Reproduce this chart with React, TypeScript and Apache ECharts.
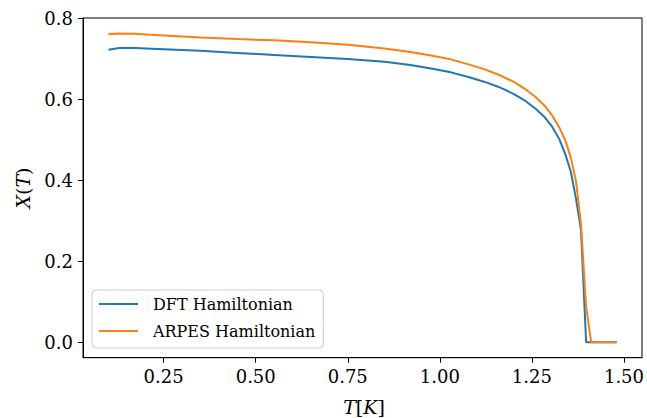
import React, { useEffect, useRef } from "react";
import * as echarts from "echarts";

const temperatures = [
  0.1, 0.13, 0.17, 0.25, 0.35, 0.45, 0.55, 0.65, 0.75, 0.85, 0.92, 0.98, 1.03, 1.08, 1.12, 1.16, 1.2, 1.23,
  1.26, 1.285, 1.305, 1.325, 1.342, 1.3558, 1.3696, 1.3834, 1.3972, 1.411, 1.48,
];
const dftValues = [
  0.722, 0.726, 0.726, 0.723, 0.719, 0.714, 0.709, 0.704, 0.699, 0.692, 0.684, 0.675, 0.666, 0.654, 0.643,
  0.63, 0.613, 0.597, 0.576, 0.555, 0.532, 0.5, 0.461, 0.42, 0.355, 0.277, 0, 0, 0,
];
const arpesValues = [
  0.76, 0.762, 0.761, 0.757, 0.752, 0.748, 0.745, 0.74, 0.734, 0.725, 0.716, 0.707, 0.698, 0.685, 0.674,
  0.66, 0.643, 0.626, 0.605, 0.583, 0.56, 0.529, 0.495, 0.455, 0.398, 0.29, 0.088, 0, 0,
];
const xTicks = [0.25, 0.5, 0.75, 1.0, 1.25, 1.5];
const yTicks = [0.0, 0.2, 0.4, 0.6, 0.8];
const seriesNames = ["DFT Hamiltonian", "ARPES Hamiltonian"];

const FONT = "DejaVu Serif";

export default function App() {
  const ref = useRef<HTMLDivElement>(null);
  useEffect(() => {
    if (!ref.current) return;
    const chart = echarts.init(ref.current, undefined, { renderer: "svg" });
    const pairs = (vals: number[]) => temperatures.map((t, i) => [t, vals[i]]);
    chart.setOption({
      animation: false,
      backgroundColor: "#ffffff",
      textStyle: { fontFamily: FONT },
      grid: {
        left: 83,
        top: 18,
        right: 1.5,
        bottom: 60.3,
        show: true,
        borderColor: "#000000",
        borderWidth: 1,
        backgroundColor: "transparent",
      },
      xAxis: {
        type: "value",
        min: 0.031,
        max: 1.549,
        splitLine: { show: false },
        axisLine: { show: true, onZero: false, lineStyle: { color: "#000", width: 1 } },
        axisTick: { show: true, length: 5, customValues: xTicks, lineStyle: { color: "#000" } },
        axisLabel: {
          customValues: xTicks,
          formatter: (v: number) => v.toFixed(2),
          fontFamily: FONT,
          fontSize: 18,
          color: "#000",
          margin: 10,
        },
      },
      yAxis: {
        type: "value",
        min: -0.0381,
        max: 0.8001,
        splitLine: { show: false },
        axisLine: { show: true, onZero: false, lineStyle: { color: "#000", width: 1 } },
        axisTick: { show: true, length: 5, customValues: yTicks, lineStyle: { color: "#000" } },
        axisLabel: {
          customValues: yTicks,
          formatter: (v: number) => v.toFixed(1),
          fontFamily: FONT,
          fontSize: 18,
          color: "#000",
          margin: 10,
        },
      },
      legend: {
        orient: "vertical",
        left: 92,
        top: 290,
        icon: "rect",
        itemWidth: 39,
        itemHeight: 2,
        itemGap: 5,
        padding: [3, 8, 6, 7],
        backgroundColor: "rgba(255,255,255,0.8)",
        borderColor: "#cccccc",
        borderWidth: 1,
        borderRadius: 4,
        data: seriesNames,
        textStyle: {
          fontFamily: FONT,
          fontSize: 16,
          color: "#000",
          lineHeight: 22,
          padding: [0, 0, 0, 10],
        },
      },
      graphic: [
        {
          type: "text",
          x: 23,
          y: 188,
          rotation: Math.PI / 2,
          style: {
            text: "{i|X}(" + "{i|T})",
            fontFamily: FONT,
            fontSize: 19,
            fill: "#000",
            align: "center",
            verticalAlign: "middle",
            rich: { i: { fontStyle: "italic", fontFamily: FONT, fontSize: 19 } },
          },
        },
        {
          type: "text",
          x: 364,
          y: 407,
          style: {
            text: "{i|T}[{i|K}]",
            fontFamily: FONT,
            fontSize: 19,
            fill: "#000",
            align: "center",
            verticalAlign: "middle",
            rich: { i: { fontStyle: "italic", fontFamily: FONT, fontSize: 19 } },
          },
        },
      ],
      series: [
        {
          name: seriesNames[0],
          type: "line",
          data: pairs(dftValues),
          showSymbol: false,
          symbol: "none",
          smooth: false,
          color: "#1f77b4",
          lineStyle: { width: 2, color: "#1f77b4" },
        },
        {
          name: seriesNames[1],
          type: "line",
          data: pairs(arpesValues),
          showSymbol: false,
          symbol: "none",
          smooth: false,
          color: "#ff7f0e",
          lineStyle: { width: 2, color: "#ff7f0e" },
        },
      ],
    });
    return () => chart.dispose();
  }, []);
  return (
    <div
      ref={ref}
      style={{ position: "fixed", left: 0, top: 0, width: 647, height: 418 }}
    />
  );
}
